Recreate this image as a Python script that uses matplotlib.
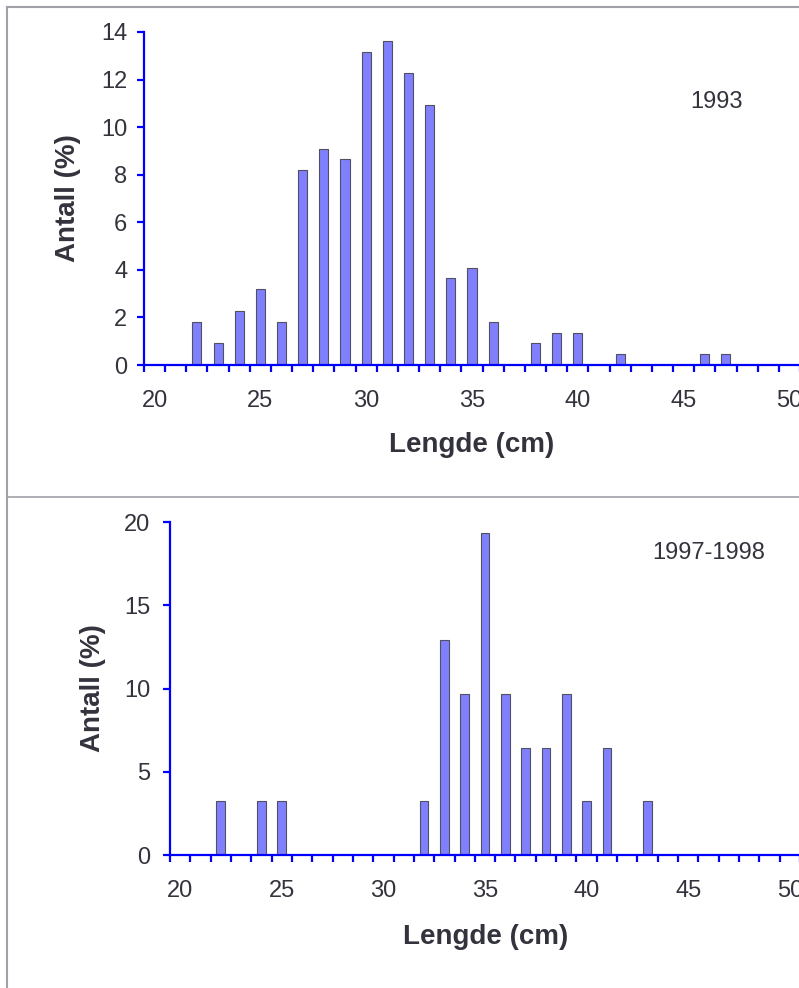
import matplotlib
matplotlib.use("Agg")
import matplotlib.pyplot as plt
from matplotlib.lines import Line2D
import numpy as np

plt.rcParams['font.family'] = ['Liberation Sans', 'DejaVu Sans']

# length classes (cm) and share of catch (%)
len_1993 = [22, 23, 24, 25, 26, 27, 28, 29, 30, 31, 32, 33, 34, 35, 36, 38, 39, 40, 42, 46, 47]
pct_1993 = [1.82, 0.91, 2.27, 3.18, 1.82, 8.18, 9.09, 8.64, 13.18, 13.64, 12.27, 10.91,
            3.64, 4.09, 1.82, 0.91, 1.36, 1.36, 0.45, 0.45, 0.45]

len_9798 = [22, 24, 25, 32, 33, 34, 35, 36, 37, 38, 39, 40, 41, 43]
pct_9798 = [3.23, 3.23, 3.23, 3.23, 12.9, 9.68, 19.35, 9.68, 6.45, 6.45, 9.68, 3.23, 6.45, 3.23]

xticks = [20, 25, 30, 35, 40, 45, 50]
yticks_1993 = [0, 2, 4, 6, 8, 10, 12, 14]
yticks_9798 = [0, 5, 10, 15, 20]

W, H = 799, 988
fig = plt.figure(figsize=(W / 100, H / 100), dpi=100)
txt = '#33333d'
blue = '#0000ff'


def px(x0, y0, x1, y1):
    # pixel box -> figure fraction rect
    return [x0 / W, 1 - y1 / H, (x1 - x0) / W, (y1 - y0) / H]


def panel(rect, lens, pcts, yticks, ylab_pad, xlab_pad):
    ax = fig.add_axes(rect)
    ax.bar(lens, pcts, width=0.43, color='#8080ff', edgecolor='#505060', linewidth=0.8, zorder=2)
    ax.set_xlim(19.5, 50.5)
    ax.set_ylim(yticks[0], yticks[-1])
    for s in ['top', 'right']:
        ax.spines[s].set_visible(False)
    for s in ['left', 'bottom']:
        ax.spines[s].set_color(blue)
        ax.spines[s].set_linewidth(1.6)
        ax.spines[s].set_zorder(3)
    ax.set_xticks(xticks)
    ax.set_xticks(np.arange(19.5, 51, 1), minor=True)
    ax.set_yticks(yticks)
    ax.tick_params(axis='x', which='major', length=0, pad=xlab_pad, labelsize=17, labelcolor=txt)
    ax.tick_params(axis='x', which='minor', direction='out', length=5, width=1.6, color=blue)
    ax.tick_params(axis='y', direction='out', length=5, width=1.6, color=blue,
                   pad=ylab_pad, labelsize=17, labelcolor=txt)
    return ax


ax1 = panel(px(144, 32, 800, 365), len_1993, pct_1993, yticks_1993, 7, 18)
ax2 = panel(px(170, 522, 800, 855), len_9798, pct_9798, yticks_9798, 9, 18)

# axis titles and panel labels
fig.text(68 / W, 1 - 198 / H, 'Antall (%)', rotation=90, ha='center', va='center',
         fontsize=20, fontweight='bold', color=txt)
fig.text(472 / W, 1 - 445 / H, 'Lengde (cm)', ha='center', va='center',
         fontsize=20, fontweight='bold', color=txt)
fig.text(716 / W, 1 - 102 / H, '1993', ha='center', va='center', fontsize=17, color=txt)

fig.text(93 / W, 1 - 688 / H, 'Antall (%)', rotation=90, ha='center', va='center',
         fontsize=20, fontweight='bold', color=txt)
fig.text(486 / W, 1 - 937 / H, 'Lengde (cm)', ha='center', va='center',
         fontsize=20, fontweight='bold', color=txt)
fig.text(709 / W, 1 - 553 / H, '1997-1998', ha='center', va='center', fontsize=17, color=txt)

# grey panel frame lines
frame = '#a0a0a8'
fig.add_artist(Line2D([6.5 / W, 1], [1 - 7.5 / H, 1 - 7.5 / H], color=frame, lw=1.5))
fig.add_artist(Line2D([6.5 / W, 6.5 / W], [0, 1 - 7.5 / H], color=frame, lw=1.5))
fig.add_artist(Line2D([6.5 / W, 1], [1 - 497.5 / H, 1 - 497.5 / H], color=frame, lw=1.2))

fig.savefig('out.png', dpi=100)
